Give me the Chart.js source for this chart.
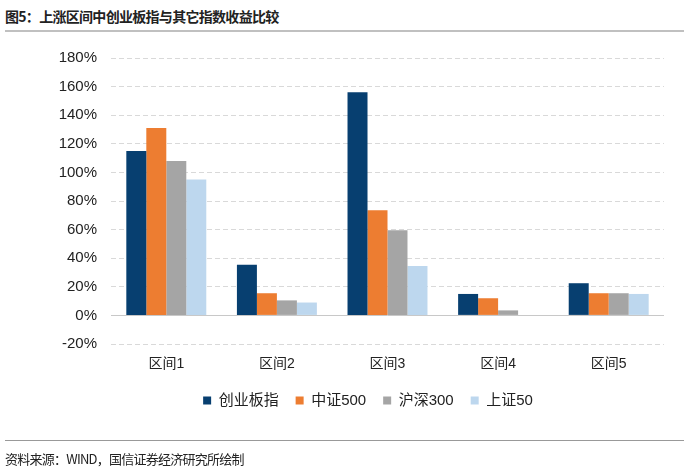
<!DOCTYPE html>
<html>
<head>
<meta charset="utf-8">
<script src="https://cdn.jsdelivr.net/npm/chart.js@4"></script>
<style>
  body { margin: 0; background: #fff; font-family: "Liberation Sans", "Noto Sans CJK SC", sans-serif; }
  #wrap { position: relative; width: 684px; height: 471px; overflow: hidden; }
  #title { position: absolute; left: 5px; top: 6px; font-size: 14px; font-weight: bold; color: #222; letter-spacing: -0.7px; font-family: "Noto Sans CJK SC", sans-serif; }
  #topline { position: absolute; left: 5px; right: 0; top: 30px; height: 2px; background: #c0c0c0; }
  #botline { position: absolute; left: 5px; right: 0; top: 440px; height: 1px; background: #999; }
  #source { position: absolute; left: 5px; top: 449px; font-size: 13px; color: #222; font-family: "Noto Sans CJK SC", sans-serif; letter-spacing: -0.75px; }
  #chartBox { position: absolute; left: 0; top: 0; width: 684px; height: 471px; }
</style>
</head>
<body>
<div id="wrap">
  <div id="title">图5：上涨区间中创业板指与其它指数收益比较</div>
  <div id="topline"></div>
  <div id="chartBox"><canvas id="canvas"></canvas></div>
  <div id="botline"></div>
  <div id="source">资料来源：WIND，国信证券经济研究所绘制</div>
</div>
<script>
// categories and series (percent)
const categories = ['区间1', '区间2', '区间3', '区间4', '区间5'];
const seriesNames = ['创业板指', '中证500', '沪深300', '上证50'];
const chuangye = [115, 35.5, 156, 15, 22.5];
const zz500 = [131, 15.5, 73.5, 12, 15.5];
const hs300 = [108, 10.5, 59.5, 3.5, 15.5];
const sz50 = [95, 9, 34.5, 0, 15];
const colors = ['#073F70', '#ED7D31', '#A5A5A5', '#BDD7EE'];

// move the legend a bit to the right, like the original
const legendShift = {
    id: 'legendShift',
    afterLayout(chart) {
        chart.legend.left += 36;
        chart.legend.right += 36;
    }
};

function drawBarChart() {
    const values = [chuangye, zz500, hs300, sz50];
    let data = {
        labels: categories,
        datasets: values.map((v, i) => ({
            label: seriesNames[i],
            data: v,
            backgroundColor: colors[i],
            borderWidth: 0,
            categoryPercentage: 0.723,
            barPercentage: 1.0
        }))
    };

    let options = {
        responsive: true,
        maintainAspectRatio: false,
        animation: false,
        layout: { padding: { top: 58, right: 20, bottom: 53, left: 0 } },
        plugins: {
            legend: {
                position: 'bottom',
                labels: {
                    boxWidth: 8,
                    boxHeight: 8,
                    padding: 17,
                    color: '#222',
                    font: { size: 15, family: '"Liberation Sans", "Noto Sans CJK SC"' }
                }
            },
            tooltip: { enabled: false }
        },
        scales: {
            x: {
                grid: { display: false },
                border: { display: false },
                ticks: {
                    color: '#222',
                    padding: 4,
                    font: { size: 14, family: '"Liberation Sans", "Noto Sans CJK SC"' }
                },
                afterFit: s => { s.height = 32; }
            },
            y: {
                min: -20,
                max: 180,
                border: {
                    display: false,
                    dash: c => (c.tick && c.tick.value === 0) ? [] : [5, 3]
                },
                grid: {
                    drawTicks: false,
                    color: c => (c.tick && c.tick.value === 0) ? '#c8c8c8' : '#d9d9d9',
                    lineWidth: 1
                },
                ticks: {
                    stepSize: 20,
                    padding: 14,
                    color: '#222',
                    font: { size: 15, family: '"Liberation Sans", Arial' },
                    callback: v => v + '%'
                },
                afterFit: s => { s.width = 111; }
            }
        }
    };

    let ctx = document.getElementById('canvas').getContext('2d');
    new Chart(ctx, { type: 'bar', data: data, options: options, plugins: [legendShift] });
}
drawBarChart();
</script>
</body>
</html>
